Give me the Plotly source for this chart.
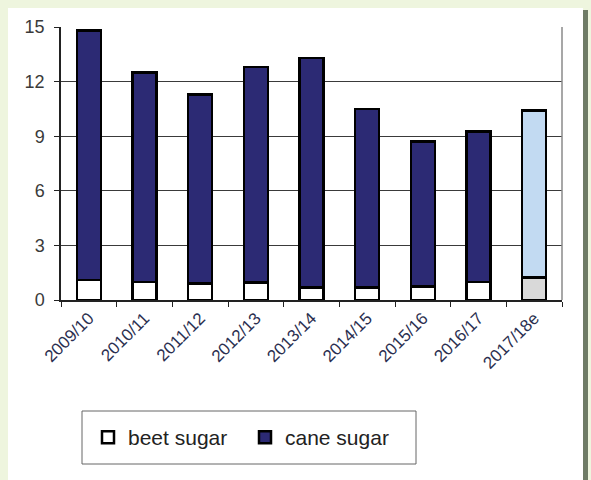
import plotly.graph_objects as go

seasons = ["2009/10", "2010/11", "2011/12", "2012/13", "2013/14",
           "2014/15", "2015/16", "2016/17", "2017/18e"]
beet = [1.1, 1.0, 0.9, 0.95, 0.7, 0.7, 0.75, 1.0, 1.25]
total = [14.8, 12.5, 11.3, 12.8, 13.3, 10.5, 8.7, 9.25, 10.4]
cane = [round(t - b, 2) for t, b in zip(total, beet)]
y_ticks = [0, 3, 6, 9, 12, 15]

beet_colors = ["#ffffff"] * 8 + ["#d9d9d9"]
cane_colors = ["#2c2a74"] * 8 + ["#c2daf2"]

W, H = 591, 480
L, R, T, B = 61, 29, 27, 180
pw, ph = W - L - R, H - T - B

def px(x):
    return (x - L) / pw

def py(y):
    return (H - B - y) / ph

fig = go.Figure()
fig.add_trace(go.Bar(
    x=seasons, y=beet, name="beet sugar",
    marker=dict(color=beet_colors, line=dict(color="#000000", width=2.5)),
))
fig.add_trace(go.Bar(
    x=seasons, y=cane, name="cane sugar",
    marker=dict(color=cane_colors, line=dict(color="#000000", width=2.5)),
))

shapes = [
    # white panel
    dict(type="rect", xref="paper", yref="paper", x0=px(8), x1=px(583), y0=py(480), y1=py(8),
         fillcolor="#ffffff", line=dict(width=0), layer="below"),
    # right shadow stripe
    dict(type="rect", xref="paper", yref="paper", x0=px(583), x1=px(588), y0=py(480), y1=py(10),
         fillcolor="#6f7c66", line=dict(width=0), layer="below"),
    # right border of plot area
    dict(type="line", xref="paper", yref="paper", x0=1, x1=1, y0=0, y1=1,
         line=dict(color="#8a8a8a", width=1.5)),
    # legend frame
    dict(type="rect", xref="paper", yref="paper", x0=px(82), x1=px(416), y0=py(464), y1=py(411),
         line=dict(color="#666666", width=1), fillcolor="rgba(0,0,0,0)", layer="below"),
]

fig.update_layout(
    width=W, height=H,
    margin=dict(l=L, r=R, t=T, b=B),
    paper_bgcolor="#eef5de",
    plot_bgcolor="#ffffff",
    barmode="stack",
    bargap=0.57,
    shapes=shapes,
    font=dict(family="Arial, Liberation Sans, sans-serif", color="#333333"),
    showlegend=True,
    legend=dict(
        orientation="h",
        x=px(88), xanchor="left",
        y=py(437.5), yanchor="middle",
        bgcolor="rgba(0,0,0,0)",
        borderwidth=0,
        font=dict(size=21, color="#222222"),
        traceorder="normal",
        entrywidth=112,
        itemwidth=30,
    ),
    xaxis=dict(
        type="category",
        tickangle=-45,
        tickfont=dict(size=17, color="#2b2f50"),
        showline=True, linecolor="#222222", linewidth=1.5,
        ticks="outside", tickson="boundaries", ticklen=5, tickcolor="#222222",
        showgrid=False,
    ),
    yaxis=dict(
        range=[0, 15],
        tickvals=y_ticks,
        tickfont=dict(size=18, color="#3a3a3a"),
        ticklabelstandoff=6,
        showline=True, linecolor="#222222", linewidth=1.5,
        ticks="outside", ticklen=5, tickcolor="#222222",
        showgrid=True, gridcolor="#3a3a3a", gridwidth=1,
        zeroline=False,
    ),
)

fig.write_html("out.html")
